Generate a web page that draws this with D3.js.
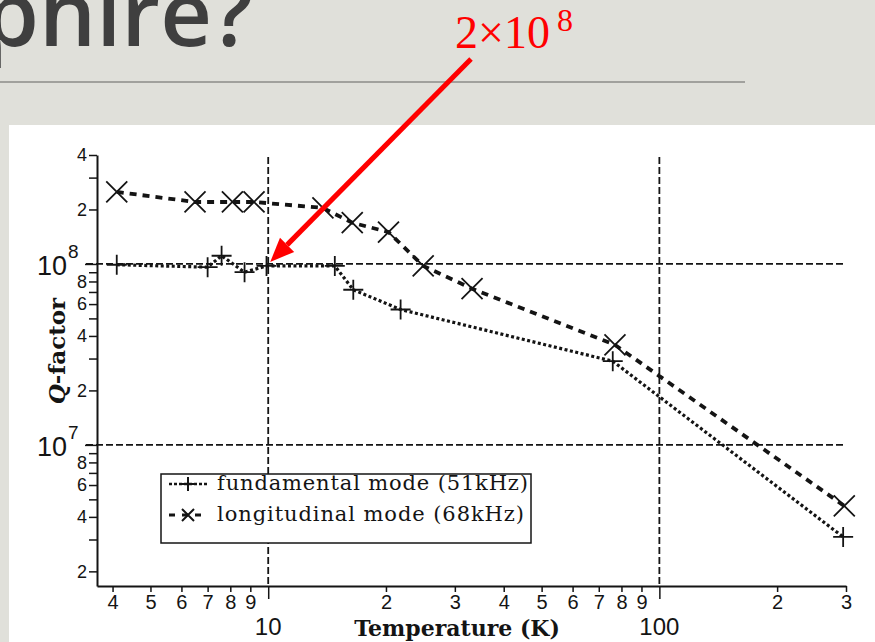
<!DOCTYPE html>
<html lang="en">
<head>
<meta charset="UTF-8">
<title>Q-factor vs temperature</title>
<script src="https://d3js.org/d3.v7.min.js"></script>
<style>
  body { margin: 0; background: #e0e0da; }
  svg { display: block; }
</style>
</head>
<body>
<script>
const width = 875, height = 642;

// fundamental mode (51kHz)
const fundTemp = [4.1, 7.0, 7.6, 8.7, 9.9, 14.8, 16.5, 21.8, 76, 295];
const fundQ = [0.99e8, 0.96e8, 1.11e8, 0.90e8, 0.975e8, 0.975e8, 0.72e8, 0.56e8, 0.29e8, 3.1e6];
// longitudinal mode (68kHz)
const longTemp = [4.1, 6.5, 8.1, 9.2, 13.8, 16.4, 20.3, 24.9, 33.2, 77, 297];
const longQ = [2.5e8, 2.2e8, 2.2e8, 2.2e8, 2.04e8, 1.69e8, 1.5e8, 0.975e8, 0.73e8, 0.357e8, 4.6e6];

const seriesNames = ["fundamental mode (51kHz)", "longitudinal mode (68kHz)"];
const xTicks = [4, 5, 6, 7, 8, 9, 10, 20, 30, 40, 50, 60, 70, 80, 90, 100, 200, 300];
const yTicks = [2e6, 3e6, 4e6, 5e6, 6e6, 7e6, 8e6, 9e6,
                1e7, 2e7, 3e7, 4e7, 5e7, 6e7, 7e7, 8e7, 9e7,
                1e8, 2e8, 3e8, 4e8];
const gridTemps = [10, 100];
const gridQs = [1e7, 1e8];
const noteTemp = 10, noteQ = 1e8;   // where the red arrow points

const ink = "#141414";

const svg = d3.select("body").append("svg").attr("width", width).attr("height", height);

// slide background bits
svg.append("rect").attr("width", width).attr("height", height).attr("fill", "#e0e0da");
svg.append("text").attr("x", 253).attr("y", 46).attr("text-anchor", "end")
  .attr("font-family", "'Open Sans', sans-serif").attr("font-size", 90).attr("font-weight", 600)
  .attr("fill", "#3f3f3f").text("phire?");
svg.append("line").attr("x1", 0).attr("x2", 745).attr("y1", 82).attr("y2", 82)
  .attr("stroke", "#8c8c88").attr("stroke-width", 1.5);
svg.append("rect").attr("x", 9).attr("y", 125).attr("width", width - 9).attr("height", height - 125)
  .attr("fill", "#fff");

const x = d3.scaleLog().domain([3.65, 300]).range([97, 846]);
const y = d3.scaleLog().domain([1.66e6, 4e8]).range([586, 155]);

const mant = d => Math.round(d / Math.pow(10, Math.floor(Math.log10(d) + 1e-9)));

// dashed grid at the decades
svg.append("g").selectAll("line").data(gridTemps).join("line")
  .attr("x1", d => x(d)).attr("x2", d => x(d))
  .attr("y1", y.range()[1] + 2).attr("y2", y.range()[0])
  .attr("stroke", ink).attr("stroke-width", 1.8).attr("stroke-dasharray", "7,3");
svg.append("g").selectAll("line").data(gridQs).join("line")
  .attr("x1", x.range()[0] - 11).attr("x2", x.range()[1])
  .attr("y1", d => y(d)).attr("y2", d => y(d))
  .attr("stroke", ink).attr("stroke-width", 1.8).attr("stroke-dasharray", "7,3");

// axes
const yAxis = svg.append("g").attr("transform", `translate(${x.range()[0]},0)`)
  .call(d3.axisLeft(y).tickValues(yTicks).tickSize(8).tickSizeOuter(0).tickPadding(2)
    .tickFormat(d => (mant(d) % 2 ? "" : mant(d))));
yAxis.selectAll(".tick line").attr("x2", d => mant(d) === 1 ? -12 : -8);

const xAxis = svg.append("g").attr("transform", `translate(0,${y.range()[0]})`)
  .call(d3.axisBottom(x).tickValues(xTicks).tickSize(6).tickSizeOuter(0).tickPadding(3)
    .tickFormat(d => mant(d) === 1 ? "" : mant(d)));
xAxis.selectAll(".tick line").attr("y2", d => mant(d) === 1 ? 13 : 6);

[xAxis, yAxis].forEach(g => {
  g.select(".domain").attr("stroke", ink).attr("stroke-width", 2);
  g.selectAll(".tick line").attr("stroke", ink).attr("stroke-width", 1.5);
  g.selectAll(".tick text").attr("fill", ink).attr("font-family", "'Liberation Sans', sans-serif");
});
yAxis.selectAll(".tick text").attr("font-size", 18);
xAxis.selectAll(".tick text").attr("font-size", 20);

// decade labels
const yDec = svg.append("g").selectAll("text").data(gridQs).join("text")
  .attr("y", d => y(d) + 11).attr("fill", ink)
  .attr("font-family", "'Liberation Sans', sans-serif");
yDec.append("tspan").attr("x", 67).attr("text-anchor", "end").attr("font-size", 27).text("10");
yDec.append("tspan").attr("x", 68).attr("dy", -17).attr("font-size", 19)
  .text(d => Math.round(Math.log10(d)));

svg.append("g").selectAll("text").data(gridTemps).join("text")
  .attr("x", d => x(d)).attr("y", 635).attr("text-anchor", "middle")
  .attr("font-family", "'Liberation Sans', sans-serif").attr("font-size", 24)
  .attr("fill", ink).text(d => d);

// axis titles
svg.append("text").attr("x", 457).attr("y", 636).attr("text-anchor", "middle")
  .attr("font-family", "'DejaVu Serif', serif").attr("font-weight", "bold").attr("font-size", 22)
  .attr("fill", ink).text("Temperature (K)");
const yTitle = svg.append("text").attr("transform", "translate(65,351) rotate(-90)")
  .attr("text-anchor", "middle").attr("font-family", "'DejaVu Serif', serif")
  .attr("font-weight", "bold").attr("font-size", 23).attr("fill", ink);
yTitle.append("tspan").attr("font-style", "italic").text("Q");
yTitle.append("tspan").text("-factor");

// series
const fund = fundTemp.map((t, i) => ({t, q: fundQ[i]}));
const longi = longTemp.map((t, i) => ({t, q: longQ[i]}));
const line = d3.line().x(d => x(d.t)).y(d => y(d.q));

const plus = s => `M${-s},0H${s}M0,${-s}V${s}`;
const cross = s => `M${-s},${-s}L${s},${s}M${-s},${s}L${s},${-s}`;

const series = [
  {data: fund, dash: "3,2.5", sw: 3.2, marker: plus(10)},
  {data: longi, dash: "7,6", sw: 3.8, marker: cross(10.5)}
];

series.forEach(s => {
  svg.append("path").datum(s.data).attr("d", line).attr("fill", "none")
    .attr("stroke", ink).attr("stroke-width", s.sw).attr("stroke-dasharray", s.dash);
  svg.append("g").selectAll("path").data(s.data).join("path")
    .attr("transform", d => `translate(${x(d.t)},${y(d.q)})`)
    .attr("d", s.marker).attr("fill", "none").attr("stroke", ink).attr("stroke-width", 1.8);
});

// legend
const legend = svg.append("g").attr("transform", "translate(161,474)");
legend.append("rect").attr("width", 370).attr("height", 69)
  .attr("fill", "#fff").attr("stroke", ink).attr("stroke-width", 1.5);
const legItems = [
  {name: seriesNames[0], dash: "3,2", sw: 2.5, marker: plus(7)},
  {name: seriesNames[1], dash: "6,7", sw: 3, marker: cross(6)}
];
legItems.forEach((d, i) => {
  const g = legend.append("g").attr("transform", `translate(0,${i * 31})`);
  g.append("line").attr("x1", 8).attr("x2", 46).attr("y1", 10).attr("y2", 10)
    .attr("stroke", ink).attr("stroke-width", d.sw).attr("stroke-dasharray", d.dash);
  g.append("path").attr("transform", "translate(27,10)").attr("d", d.marker)
    .attr("fill", "none").attr("stroke", ink).attr("stroke-width", 2);
  g.append("text").attr("x", 56).attr("y", 16)
    .attr("font-family", "'DejaVu Serif', serif").attr("font-size", 21)
    .attr("textLength", i === 0 ? 311 : 307).attr("lengthAdjust", "spacing")
    .attr("fill", ink).text(d.name);
});

// red annotation arrow
const tip = [x(noteTemp) + 2, y(noteQ) - 2];
const tail = [471, 59];
const ang = Math.atan2(tip[1] - tail[1], tip[0] - tail[0]);
const headLen = 24, headHalf = 10;
const base = [tip[0] - headLen * Math.cos(ang), tip[1] - headLen * Math.sin(ang)];
svg.append("line").attr("x1", tail[0]).attr("y1", tail[1]).attr("x2", base[0]).attr("y2", base[1])
  .attr("stroke", "#ff0000").attr("stroke-width", 5);
const nx = -Math.sin(ang), ny = Math.cos(ang);
svg.append("path")
  .attr("d", `M${tip[0]},${tip[1]}L${base[0] + nx * headHalf},${base[1] + ny * headHalf}L${base[0] - nx * headHalf},${base[1] - ny * headHalf}Z`)
  .attr("fill", "#ff0000");

const note = svg.append("text").attr("y", 48)
  .attr("font-family", "'Liberation Serif', serif").attr("fill", "#ff0000");
note.append("tspan").attr("x", 455).attr("font-size", 46).text("2×10");
note.append("tspan").attr("x", 557).attr("dy", -17).attr("font-size", 32).text("8");
</script>
</body>
</html>
